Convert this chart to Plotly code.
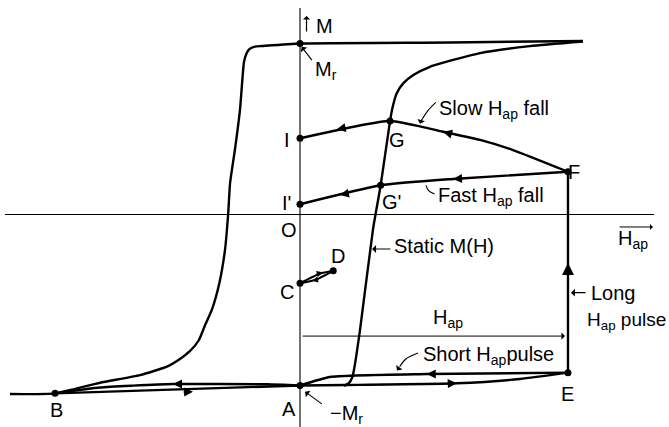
import plotly.graph_objects as go

# ---- magnetisation curves (H in units of the pulse amplitude, M in units of Mr) ----
# static hysteresis loop, descending branch (from +saturation through B to -saturation)
desc_H = [1.056, 0.560, 0.0, -0.142, -0.168, -0.190, -0.200, -0.209, -0.224, -0.243, -0.261,
          -0.268, -0.280, -0.301, -0.329, -0.354, -0.377, -0.410, -0.448, -0.497, -0.597,
          -0.746, -0.914, -1.082]
desc_M = [1.015, 1.006, 1.0, 0.985, 0.982, 0.966, 0.940, 0.892, 0.611, 0.377, 0.182,
          0.003, -0.208, -0.402, -0.558, -0.646, -0.734, -0.798, -0.845, -0.890, -0.939,
          -0.984, -1.046, -1.050]

# static hysteresis loop, ascending branch
asc_H = [0.164, 0.183, 0.194, 0.201, 0.224, 0.272, 0.301, 0.336, 0.346, 0.361,
         0.385, 0.423, 0.485, 0.672, 0.858, 1.056]
asc_M = [-1.003, -0.985, -0.956, -0.912, -0.675, -0.091, 0.171, 0.547, 0.630, 0.709,
         0.767, 0.816, 0.864, 0.944, 0.985, 1.012]

# negative pulse: A -> B (upper) and back B -> A (lower)
ab_up_H = [0.0, -0.123, -0.474, -0.623, -0.746, -0.914]
ab_up_M = [-1.0, -0.993, -0.991, -1.001, -1.012, -1.046]
ab_lo_H = [-0.914, 0.0]
ab_lo_M = [-1.046, -1.0]

# short positive pulse: A -> E (lower) and back E -> A (upper)
ae_lo_H = [0.0, 0.174, 0.585, 0.821, 1.0]
ae_lo_M = [-1.0, -0.997, -0.987, -0.962, -0.925]
ae_up_H = [1.0, 0.473, 0.112, 0.0]
ae_up_M = [-0.925, -0.933, -0.950, -1.0]

# long pulse E -> F
ef_H = [1.0, 1.0]
ef_M = [-0.925, 0.250]

# slow fall F -> G -> I
slow_H = [1.0, 0.795, 0.672, 0.534, 0.336, 0.0]
slow_M = [0.250, 0.377, 0.436, 0.484, 0.547, 0.446]

# fast fall F -> G' -> I'
fast_H = [1.0, 0.571, 0.301, 0.0]
fast_M = [0.250, 0.208, 0.171, 0.060]

# small minor loop C <-> D
cd_up_H = [0.0, 0.075, 0.124]
cd_up_M = [-0.402, -0.345, -0.329]
cd_lo_H = [0.0, 0.056, 0.124]
cd_lo_M = [-0.402, -0.383, -0.329]

# labelled points
pt_names = ["Mr", "I", "I'", "C", "D", "G", "G'", "F", "E", "A", "B"]
pt_H = [0.0, 0.0, 0.0, 0.0, 0.124, 0.336, 0.301, 1.0, 1.0, 0.0, -0.914]
pt_M = [1.0, 0.446, 0.060, -0.402, -0.329, 0.547, 0.171, 0.250, -0.925, -1.0, -1.046]

X_RANGE = [-1.1194, 1.3769]
Y_RANGE = [-1.2427, 1.2544]
FONT = "Liberation Sans, Arial, sans-serif"
FONT_SIZE = 20
CURVE_W = 2.4

fig = go.Figure()


def line(h, m, width=CURVE_W, shape="spline", smoothing=0.5):
    fig.add_trace(go.Scatter(x=h, y=m, mode="lines",
                             line=dict(color="black", width=width, shape=shape,
                                       smoothing=smoothing if shape == "spline" else None),
                             hoverinfo="skip", showlegend=False))


# axes
line([-1.101, 1.321], [0.0, 0.0], width=1.1, shape="linear")
line([0.0, 0.0], [1.208, -1.243], width=1.1, shape="linear")

# curves
line(desc_H, desc_M)
line(asc_H, asc_M)
line(ab_up_H, ab_up_M)
line(ab_lo_H, ab_lo_M, shape="linear")
line(ae_lo_H, ae_lo_M)
line(ae_up_H, ae_up_M)
line(ef_H, ef_M, shape="linear")
line(slow_H, slow_M)
line(fast_H, fast_M)
line(cd_up_H, cd_up_M, width=2)
line(cd_lo_H, cd_lo_M, width=2)

# pointer leaders (curved)
line([0.507, 0.478, 0.451], [0.656, 0.609, 0.545], width=1.1, smoothing=1)
line([0.502, 0.480, 0.470], [0.120, 0.140, 0.170], width=1.1, smoothing=1)
line([0.440, 0.395, 0.372], [-0.810, -0.845, -0.890], width=1.1, smoothing=1)

# points
fig.add_trace(go.Scatter(x=pt_H, y=pt_M, mode="markers",
                         marker=dict(color="black", size=7),
                         hoverinfo="skip", showlegend=False))

annotations = []


def arrow(hx, hy, tx, ty, width=CURVE_W, size=1.0, head=2):
    annotations.append(dict(x=hx, y=hy, ax=tx, ay=ty, xref="x", yref="y",
                            axref="x", ayref="y", showarrow=True, text="",
                            arrowhead=head, arrowsize=size, arrowwidth=width,
                            arrowcolor="black", standoff=0, startstandoff=0))


# direction arrows on the curves
arrow(-0.474, -0.991, -0.44, -0.991, width=1.5, size=1.2)
arrow(-0.399, -1.036, -0.44, -1.038, width=1.5, size=1.2)
arrow(0.585, -0.987, 0.55, -0.989, width=1.5, size=1.2)
arrow(0.473, -0.933, 0.51, -0.932, width=1.5, size=1.2)
arrow(1.0, -0.284, 1.0, -0.34, width=2, size=1.2)
arrow(0.534, 0.484, 0.57, 0.468, width=1.5, size=1.2)
arrow(0.137, 0.498, 0.17, 0.508, width=1.5, size=1.2)
arrow(0.571, 0.208, 0.61, 0.211, width=1.5, size=1.2)
arrow(0.149, 0.114, 0.18, 0.124, width=1.5, size=1.2)
arrow(0.085, -0.338, 0.055, -0.352, width=1.1, size=1.1)
arrow(0.045, -0.387, 0.075, -0.377, width=1.1, size=1.1)

# leader arrows
arrow(0.006, 0.981, 0.0485, 0.894, width=1.1, size=1.2, head=1)
arrow(0.0187, -1.036, 0.087, -1.114, width=1.1, size=1.2, head=1)
arrow(0.269, -0.202, 0.343, -0.202, width=1.1, size=1.2, head=1)
arrow(1.011, -0.457, 1.071, -0.457, width=1.1, size=1.2, head=1)
arrow(0.448, 0.530, 0.451, 0.545, width=1.1, size=1.2, head=1)
arrow(0.468, 0.182, 0.470, 0.170, width=1.1, size=1.2, head=1)
arrow(0.362, -0.912, 0.372, -0.890, width=1.1, size=1.2, head=1)

# H_ap amplitude arrow, M axis arrow, H axis arrow
arrow(0.989, -0.711, 0.004, -0.711, width=1.0, size=1.2, head=1)
arrow(0.0243, 1.161, 0.0243, 1.061, width=1.2, size=1.0, head=1)
arrow(1.317, -0.073, 1.187, -0.073, width=1.0, size=1.0, head=1)


def label(text, x, y, xanchor="center", yanchor="middle", size=FONT_SIZE):
    annotations.append(dict(x=x, y=y, xref="x", yref="y", text=text, showarrow=False,
                            xanchor=xanchor, yanchor=yanchor,
                            font=dict(family=FONT, size=size, color="black")))


label("M", 0.052, 1.105, xanchor="left")
label("M<sub>r</sub>", 0.048, 0.845, xanchor="left")
label("I", -0.0485, 0.436)
label("I'", -0.052, 0.067)
label("O", -0.041, -0.088)
label("C", -0.047, -0.453)
label("D", 0.142, -0.243)
label("G", 0.362, 0.436)
label("G'", 0.342, 0.076)
label("F", 1.021, 0.251)
label("E", 1.0, -1.047)
label("A", -0.041, -1.135)
label("B", -0.907, -1.146)
label("\u2212M<sub>r</sub>", 0.104, -1.167, xanchor="left")
label("Slow H<sub>ap</sub> fall", 0.511, 0.614, xanchor="left")
label("Fast H<sub>ap</sub> fall", 0.507, 0.108, xanchor="left")
label("Static M(H)", 0.343, -0.187, xanchor="left")
label("Long", 1.078, -0.459, xanchor="left")
label("H<sub>ap</sub> pulse", 1.374, -0.623, xanchor="right", size=19)
label("H<sub>ap</sub>", 0.489, -0.611, xanchor="left")
label("Short H<sub>ap</sub>pulse", 0.451, -0.822, xanchor="left")
label("H<sub>ap</sub>", 1.179, -0.147, xanchor="left")

fig.update_layout(
    width=669, height=427,
    margin=dict(l=0, r=0, t=0, b=0),
    paper_bgcolor="white", plot_bgcolor="white",
    xaxis=dict(range=X_RANGE, visible=False, fixedrange=True),
    yaxis=dict(range=Y_RANGE, visible=False, fixedrange=True),
    annotations=annotations,
    showlegend=False,
)

fig.write_html("out.html")
